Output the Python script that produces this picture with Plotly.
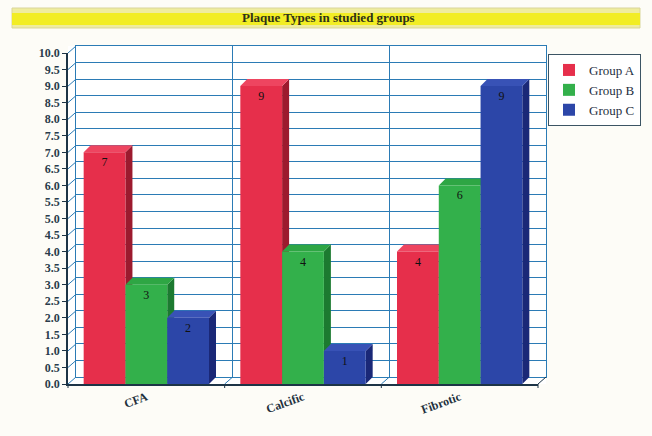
import plotly.graph_objects as go

categories = ["CFA", "Calcific", "Fibrotic"]
groups = ["Group A", "Group B", "Group C"]
group_a = [7, 9, 4]
group_b = [3, 4, 6]
group_c = [2, 1, 9]
series = [group_a, group_b, group_c]

front_colors = ["#e62f4b", "#33b04b", "#2c46a8"]
top_colors = ["#ee4560", "#2ea644", "#3852b6"]
side_colors = ["#9c1a2e", "#1c7a30", "#1a2877"]

W, H = 652, 436
# pixel layout
BACK_L, BACK_R, BACK_T, BACK_B = 76, 546, 46, 377
FRONT_L, FRONT_R, FRONT_T, FRONT_B = 68, 538, 53, 384
DEPTH = 7
YMAX = 10.0
PX_PER_UNIT = (FRONT_B - FRONT_T) / YMAX
CAT_PX = (FRONT_R - FRONT_L) / 3
BARGAP = 0.2
BAR_W_UNITS = (1 - BARGAP) / 3
BAR_W_PX = BAR_W_UNITS * CAT_PX

def px(x):
    return x / W

def py(y):
    return (H - y) / H

serif = "Liberation Serif, Times New Roman, serif"
grid_col = "#2b7bb5"
axis_dark = "#1d3446"

fig = go.Figure()

# invisible trace for back wall subplot
fig.add_trace(go.Scatter(x=[0], y=[0], xaxis="x", yaxis="y", mode="markers",
                         marker=dict(opacity=0), showlegend=False, hoverinfo="skip"))

for j, (name, vals) in enumerate(zip(groups, series)):
    fig.add_trace(go.Bar(
        x=list(range(len(categories))), y=vals, name=name,
        xaxis="x2", yaxis="y2",
        marker=dict(color=front_colors[j], line=dict(width=0)),
        text=[str(v) for v in vals], textposition="inside",
        insidetextanchor="end",
        textfont=dict(family=serif, size=12, color="#111111"),
        constraintext="none",
    ))

shapes = []
# 3D faces of bars
for j, vals in enumerate(series):
    for i, v in enumerate(vals):
        right = i - (1 - BARGAP) / 2 + (j + 1) * BAR_W_UNITS
        h = v * PX_PER_UNIT
        shapes.append(dict(type="path", xref="x2", yref="y2", xsizemode="pixel", ysizemode="pixel",
                           xanchor=right, yanchor=v, layer="between",
                           path=f"M0,0 L{DEPTH},{DEPTH} L{DEPTH},{DEPTH - h} L0,{-h} Z",
                           fillcolor=side_colors[j], line=dict(width=0)))
        shapes.append(dict(type="path", xref="x2", yref="y2", xsizemode="pixel", ysizemode="pixel",
                           xanchor=right, yanchor=v, layer="between",
                           path=f"M0,0 L{-BAR_W_PX:.2f},0 L{-BAR_W_PX + DEPTH:.2f},{DEPTH} L{DEPTH},{DEPTH} Z",
                           fillcolor=top_colors[j], line=dict(width=0)))

# title bar
shapes.append(dict(type="rect", xref="paper", yref="paper", x0=px(12), x1=px(640), y0=py(28), y1=py(8),
                   fillcolor="#efec9e", line=dict(color="#d9d59a", width=1), layer="below"))
shapes.append(dict(type="rect", xref="paper", yref="paper", x0=px(12), x1=px(640), y0=py(25), y1=py(13),
                   fillcolor="#f2ed24", line=dict(width=0), layer="below"))
# wall white
shapes.append(dict(type="rect", xref="paper", yref="paper", x0=px(FRONT_L), x1=px(BACK_R), y0=py(FRONT_B), y1=py(BACK_T),
                   fillcolor="white", line=dict(width=0), layer="below"))
# floor lines
shapes.append(dict(type="line", xref="paper", yref="paper", x0=px(FRONT_R), y0=py(FRONT_B), x1=px(BACK_R), y1=py(BACK_B),
                   line=dict(color=axis_dark, width=1)))
for k in range(3):
    fx = FRONT_L + k * CAT_PX
    shapes.append(dict(type="line", xref="paper", yref="paper", x0=px(fx), y0=py(FRONT_B),
                       x1=px(fx + (BACK_L - FRONT_L)), y1=py(BACK_B), line=dict(color=grid_col, width=1)))
for k in range(4):
    fx = FRONT_L + k * CAT_PX
    shapes.append(dict(type="line", xref="paper", yref="paper", x0=px(fx), y0=py(FRONT_B),
                       x1=px(fx), y1=py(FRONT_B + 4), line=dict(color=axis_dark, width=1)))
# tick connectors
for t in range(21):
    v = t * 0.5
    shapes.append(dict(type="line", xref="paper", yref="y", x0=px(FRONT_L), x1=px(BACK_L),
                       y0=v - DEPTH / PX_PER_UNIT, y1=v, line=dict(color=grid_col, width=1)))

fig.update_layout(
    width=W, height=H,
    margin=dict(l=0, r=0, t=0, b=0, pad=0, autoexpand=False),
    paper_bgcolor="#fdfcf7",
    plot_bgcolor="rgba(0,0,0,0)",
    barmode="group", bargap=BARGAP, bargroupgap=0,
    showlegend=True,
    shapes=shapes,
    annotations=[dict(text="<b>Plaque Types in studied groups</b>", xref="paper", yref="paper",
                      x=px(328), y=py(18), xanchor="center", yanchor="middle", showarrow=False,
                      font=dict(family=serif, size=13, color="#2e3218"))],
    legend=dict(x=px(548), y=py(54), xanchor="left", yanchor="top",
                bgcolor="#ffffff", bordercolor="#3c5464", borderwidth=1,
                font=dict(family=serif, size=13, color="#1e2e3e"),
                itemwidth=30, tracegroupgap=0),
    xaxis=dict(domain=[px(BACK_L), px(BACK_R)], range=[-0.5, 2.5], anchor="y",
               tickvals=[0.5, 1.5], showticklabels=False, ticks="",
               showgrid=True, gridcolor=grid_col, gridwidth=1, zeroline=False,
               showline=True, linecolor=grid_col, linewidth=1, mirror=True, fixedrange=True),
    yaxis=dict(domain=[py(BACK_B), py(BACK_T)], range=[0, YMAX], anchor="x",
               tickvals=[t * 0.5 for t in range(21)], showticklabels=False, ticks="",
               showgrid=True, gridcolor=grid_col, gridwidth=1, zeroline=False,
               showline=True, linecolor=grid_col, linewidth=1, mirror=True, fixedrange=True),
    xaxis2=dict(domain=[px(FRONT_L), px(FRONT_R)], range=[-0.5, 2.5], anchor="y2",
                tickvals=[0, 1, 2], ticktext=categories, tickangle=-20, ticks="",
                tickfont=dict(family=serif, size=12, color="#22303c", weight="bold"),
                showgrid=False, zeroline=False, showline=True, linecolor=axis_dark, linewidth=1.5,
                fixedrange=True, automargin=False),
    yaxis2=dict(domain=[py(FRONT_B), py(FRONT_T)], range=[0, YMAX], anchor="x2",
                tickvals=[t * 0.5 for t in range(21)], ticktext=[f"{t * 0.5:.1f}" for t in range(21)],
                ticks="outside", ticklen=4, tickcolor=axis_dark,
                tickfont=dict(family=serif, size=12, color="#2a3c4c", weight="bold"),
                showgrid=False, zeroline=False, showline=True, linecolor=axis_dark, linewidth=1.5,
                fixedrange=True, automargin=False),
)

fig.write_html("out.html")
